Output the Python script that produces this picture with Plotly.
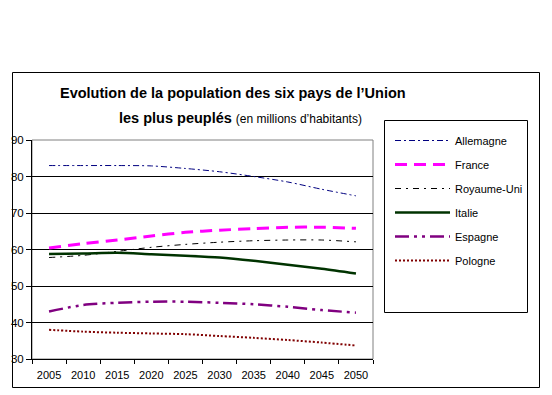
import plotly.graph_objects as go

years = ["2005", "2010", "2015", "2020", "2025", "2030", "2035", "2040", "2045", "2050"]
allemagne = [83.0, 83.0, 83.0, 82.9, 82.2, 81.3, 80.0, 78.5, 76.5, 74.7]
france = [60.4, 61.6, 62.6, 63.7, 64.7, 65.3, 65.7, 66.1, 66.1, 65.8]
royaume_uni = [57.8, 58.4, 59.5, 60.6, 61.4, 62.0, 62.4, 62.6, 62.6, 62.1]
italie = [58.8, 58.9, 59.1, 58.7, 58.3, 57.8, 56.9, 55.8, 54.7, 53.4]
espagne = [43.0, 44.8, 45.4, 45.7, 45.7, 45.4, 45.0, 44.3, 43.4, 42.7]
pologne = [38.0, 37.5, 37.2, 37.0, 36.8, 36.3, 35.8, 35.2, 34.5, 33.7]

series = [
    ("Allemagne", allemagne, "#000080", 1, "6px,3px,2px,3px"),
    ("France", france, "#FF00FF", 3, "12px,7px"),
    ("Royaume-Uni", royaume_uni, "#000000", 1, "6px,5px,2px,5px"),
    ("Italie", italie, "#003300", 2.5, "solid"),
    ("Espagne", espagne, "#800080", 2.5, "14px,5px,3px,5px,3px,5px"),
    ("Pologne", pologne, "#800000", 2, "2px,2px"),
]

W, H = 552, 395
L, R, T, B = 32, 373, 140, 359
pw, ph = R - L, B - T

def px(x):
    return (x - L) / pw

def py(y):
    return (B - y) / ph

fig = go.Figure()
for i, (name, vals, color, width, dash) in enumerate(series):
    fig.add_trace(go.Scatter(
        x=years, y=vals, name=name, mode="lines",
        line=dict(color=color, width=width, dash=dash, shape="spline", smoothing=0.8),
        legendgroup=f"g{i}",
    ))

font = "Liberation Sans, Arial, sans-serif"

fig.update_layout(
    width=W, height=H,
    margin=dict(l=L, r=W - R, t=T, b=H - B, autoexpand=False),
    paper_bgcolor="white", plot_bgcolor="white",
    font=dict(family=font, size=11, color="black"),
    showlegend=True,
    legend=dict(
        x=px(390), y=py(126), xanchor="left", yanchor="top",
        bgcolor="rgba(0,0,0,0)", borderwidth=0,
        font=dict(family=font, size=11, color="black"),
        tracegroupgap=5, itemwidth=55,
    ),
    xaxis=dict(
        type="category", range=[-0.5, 9.5], showline=True, linecolor="black", linewidth=1,
        ticks="outside", ticklen=4, tickcolor="black", tickson="boundaries",
        ticklabelstandoff=6, tickangle=0,
        showgrid=False, tickfont=dict(size=11), fixedrange=True,
    ),
    yaxis=dict(
        range=[30, 90], dtick=10, showline=True, linecolor="black", linewidth=1,
        ticks="outside", ticklen=5, tickcolor="black",
        showgrid=True, gridcolor="black", gridwidth=1, zeroline=False,
        tickfont=dict(size=11.5), fixedrange=True,
    ),
    shapes=[
        dict(type="rect", xref="paper", yref="paper", x0=0, x1=1, y0=0, y1=1,
             line=dict(color="#808080", width=1), layer="below"),
        dict(type="rect", xref="paper", yref="paper",
             x0=px(12.5), x1=px(539.5), y0=py(387.5), y1=py(72.5),
             line=dict(color="black", width=1), layer="below"),
        dict(type="rect", xref="paper", yref="paper",
             x0=px(384.5), x1=px(527.5), y0=py(312.5), y1=py(120.5),
             line=dict(color="black", width=1), layer="below"),
    ],
    annotations=[
        dict(text="<b>Evolution de la population des six pays de l\u2019Union</b>",
             xref="paper", yref="paper", x=px(58), y=py(93),
             xanchor="left", yanchor="middle", showarrow=False,
             font=dict(family=font, size=14.5, color="black")),
        dict(text="<b>les plus peuplés</b> <span style='font-size:12px'>(en millions d\u2019habitants)</span>",
             xref="paper", yref="paper", x=px(117), y=py(118),
             xanchor="left", yanchor="middle", showarrow=False,
             font=dict(family=font, size=14.5, color="black")),
    ],
)

fig.write_html("out.html", config={"displayModeBar": False})

with open("out.html", "r", encoding="utf-8") as f:
    html = f.read()
html = html.replace("<body>", "<body style=\"margin:0;padding:0\">", 1)
with open("out.html", "w", encoding="utf-8") as f:
    f.write(html)
